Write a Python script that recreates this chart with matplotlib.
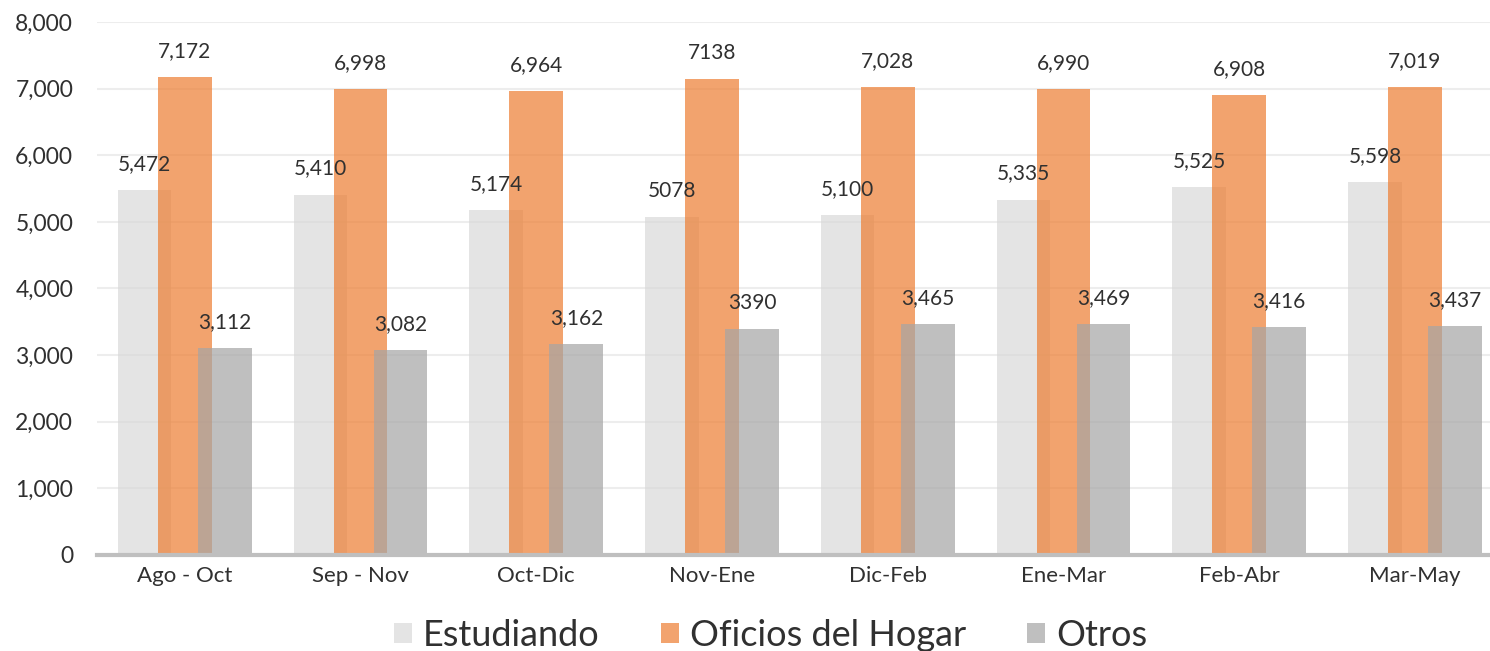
import matplotlib.pyplot as plt
import numpy as np
from matplotlib.patches import Patch

periods = ['Ago - Oct', 'Sep - Nov', 'Oct-Dic', 'Nov-Ene', 'Dic-Feb', 'Ene-Mar', 'Feb-Abr', 'Mar-May']
estudiando = [5472, 5410, 5174, 5078, 5100, 5335, 5525, 5598]
oficios = [7172, 6998, 6964, 7138, 7028, 6990, 6908, 7019]
otros = [3112, 3082, 3162, 3390, 3465, 3469, 3416, 3437]
# labels as printed on the source chart (some lack the thousands comma)
lab_estudiando = ['5,472', '5,410', '5,174', '5078', '5,100', '5,335', '5,525', '5,598']
lab_oficios = ['7,172', '6,998', '6,964', '7138', '7,028', '6,990', '6,908', '7,019']
lab_otros = ['3,112', '3,082', '3,162', '3390', '3,465', '3,469', '3,416', '3,437']

plt.rcParams['font.family'] = ['Lato', 'DejaVu Sans']
txt = '#303030'

fig = plt.figure(figsize=(14.9, 6.51), dpi=100)
ax = fig.add_axes([0.065, 0.1475, 0.9436, 0.8187])

x = np.arange(len(periods))
w = 0.305
off = 0.228
series = [
    (estudiando, lab_estudiando, -off, '#D9D9D9', 'Estudiando'),
    (oficios, lab_oficios, 0, '#ED7D31', 'Oficios del Hogar'),
    (otros, lab_otros, off, '#A5A5A5', 'Otros'),
]
handles = []
for vals, labs, dx, col, name in series:
    ax.bar(x + dx, vals, width=w, color=col, alpha=0.7, zorder=2)
    handles.append(Patch(facecolor=col, alpha=0.7, label=name))
for vals, labs, dx, col, name in series:
    for xi, v, s in zip(x, vals, labs):
        ax.annotate(s, (xi + dx, v), xytext=(0, 26), textcoords='offset pixels',
                    ha='center', va='center', fontsize=15, color=txt, zorder=5)

ax.set_xlim(-0.5, len(periods) - 0.5)
ax.set_ylim(0, 8000)
ax.set_yticks(range(0, 8001, 1000))
ax.set_yticklabels([f'{t:,}' for t in range(0, 8001, 1000)], fontsize=16.5, color=txt)
ax.set_xticks(x)
ax.set_xticklabels(periods, fontsize=16, color=txt)
ax.tick_params(length=0, pad=8)
ax.tick_params(axis='y', pad=17)
ax.grid(axis='y', color='#EDEDED', linewidth=1.5, zorder=0)
for s in ['top', 'right', 'left']:
    ax.spines[s].set_visible(False)
ax.spines['bottom'].set_color('#BFBFBF')
ax.spines['bottom'].set_linewidth(3)
ax.spines['bottom'].set_zorder(3)

fig.legend(handles=handles, loc='center', bbox_to_anchor=(0.517, 0.024), ncol=3,
           frameon=False, fontsize=26, handlelength=0.5, handleheight=0.5,
           handletextpad=0.3, columnspacing=1.7, labelcolor=txt)

fig.savefig('out.png', dpi=100)
